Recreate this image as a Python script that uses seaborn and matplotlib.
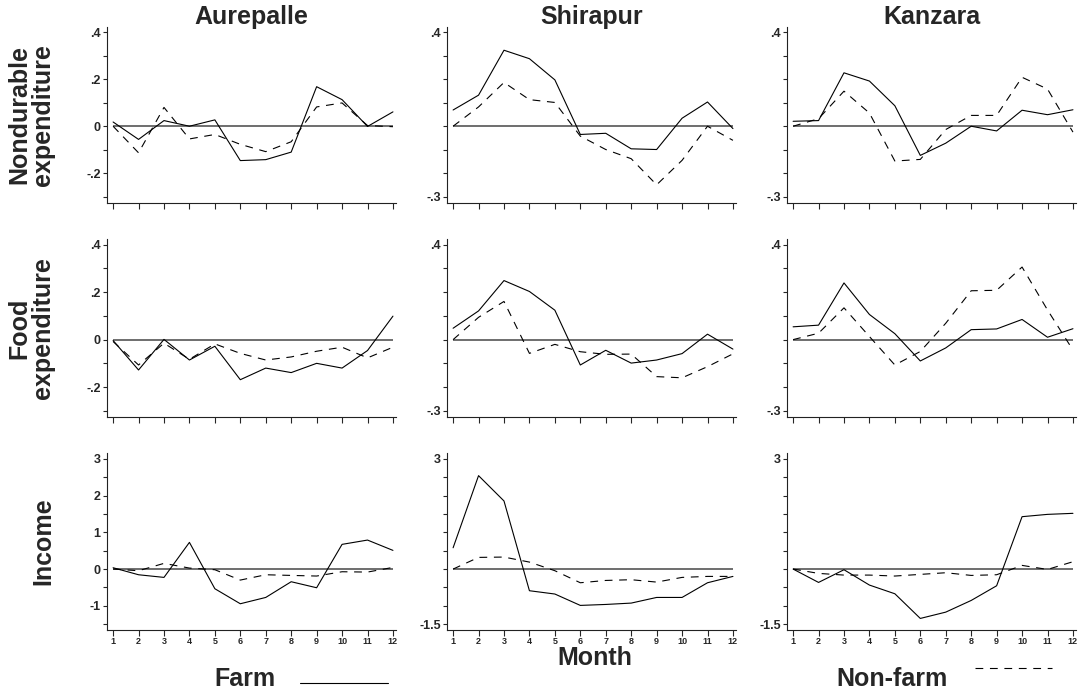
import numpy as np
import pandas as pd
import matplotlib
matplotlib.use("Agg")
import matplotlib.pyplot as plt
import seaborn as sns
from matplotlib.lines import Line2D

months = list(range(1, 13))
villages = ["Aurepalle", "Shirapur", "Kanzara"]
measures = ["Nondurable", "Food", "Income"]
row_titles = ["Nondurable\nexpenditure", "Food\nexpenditure", "Income"]

# Nondurable expenditure
nondur_farm_aur = [0.018, -0.056, 0.024, 0.0, 0.027, -0.146, -0.142, -0.110, 0.168, 0.113, -0.001, 0.061]
nondur_nonfarm_aur = [0.0, -0.113, 0.080, -0.054, -0.035, -0.077, -0.108, -0.066, 0.082, 0.099, 0.003, -0.002]
nondur_farm_shi = [0.069, 0.132, 0.323, 0.287, 0.197, -0.035, -0.030, -0.096, -0.099, 0.034, 0.103, -0.010]
nondur_nonfarm_shi = [0.0, 0.082, 0.186, 0.113, 0.101, -0.042, -0.099, -0.138, -0.249, -0.145, 0.0, -0.060]
nondur_farm_kan = [0.021, 0.024, 0.227, 0.192, 0.087, -0.124, -0.072, 0.0, -0.020, 0.068, 0.049, 0.070]
nondur_nonfarm_kan = [0.0, 0.032, 0.149, 0.056, -0.148, -0.141, -0.014, 0.046, 0.046, 0.208, 0.158, -0.025]

# Food expenditure
food_farm_aur = [-0.004, -0.128, 0.001, -0.086, -0.028, -0.169, -0.120, -0.139, -0.100, -0.120, -0.046, 0.099]
food_nonfarm_aur = [-0.008, -0.107, -0.015, -0.083, -0.018, -0.058, -0.086, -0.073, -0.049, -0.032, -0.077, -0.032]
food_farm_shi = [0.048, 0.121, 0.249, 0.203, 0.124, -0.107, -0.045, -0.099, -0.086, -0.059, 0.023, -0.040]
food_nonfarm_shi = [0.0, 0.094, 0.161, -0.058, -0.020, -0.051, -0.062, -0.061, -0.156, -0.161, -0.114, -0.060]
food_farm_kan = [0.054, 0.061, 0.239, 0.106, 0.025, -0.090, -0.035, 0.042, 0.045, 0.085, 0.010, 0.046]
food_nonfarm_kan = [0.0, 0.027, 0.134, 0.013, -0.107, -0.050, 0.069, 0.206, 0.208, 0.306, 0.125, -0.044]

# Income
inc_farm_aur = [0.036, -0.155, -0.227, 0.727, -0.536, -0.945, -0.773, -0.345, -0.509, 0.673, 0.790, 0.509]
inc_nonfarm_aur = [0.0, -0.045, 0.155, 0.027, -0.018, -0.300, -0.155, -0.173, -0.190, -0.073, -0.082, 0.045]
inc_farm_shi = [0.580, 2.545, 1.855, -0.590, -0.680, -0.990, -0.964, -0.927, -0.773, -0.773, -0.373, -0.200]
inc_nonfarm_shi = [0.0, 0.318, 0.327, 0.190, -0.045, -0.373, -0.310, -0.290, -0.355, -0.227, -0.200, -0.200]
inc_farm_kan = [0.0, -0.364, -0.018, -0.436, -0.673, -1.345, -1.173, -0.855, -0.455, 1.427, 1.490, 1.518]
inc_nonfarm_kan = [0.0, -0.118, -0.164, -0.164, -0.190, -0.145, -0.100, -0.173, -0.155, 0.100, -0.010, 0.200]

# tick values and labels
exp_ticks = [-0.3, -0.2, -0.1, 0.0, 0.1, 0.2, 0.3, 0.4]
exp_labels_first = ["", "-.2", "", "0", "", ".2", "", ".4"]
exp_labels_other = ["-.3", "", "", "", "", "", "", ".4"]
inc_ticks = [-1.5, -1.0, -0.5, 0.0, 0.5, 1.0, 1.5, 2.0, 2.5, 3.0]
inc_labels_first = ["", "-1", "", "0", "", "1", "", "2", "", "3"]
inc_labels_other = ["-1.5", "", "", "", "", "", "", "", "", "3"]

series = {
    ("Nondurable", "Aurepalle"): (nondur_farm_aur, nondur_nonfarm_aur),
    ("Nondurable", "Shirapur"): (nondur_farm_shi, nondur_nonfarm_shi),
    ("Nondurable", "Kanzara"): (nondur_farm_kan, nondur_nonfarm_kan),
    ("Food", "Aurepalle"): (food_farm_aur, food_nonfarm_aur),
    ("Food", "Shirapur"): (food_farm_shi, food_nonfarm_shi),
    ("Food", "Kanzara"): (food_farm_kan, food_nonfarm_kan),
    ("Income", "Aurepalle"): (inc_farm_aur, inc_nonfarm_aur),
    ("Income", "Shirapur"): (inc_farm_shi, inc_nonfarm_shi),
    ("Income", "Kanzara"): (inc_farm_kan, inc_nonfarm_kan),
}

rows = []
for (meas, vil), (farm, nonfarm) in series.items():
    for m, f, n in zip(months, farm, nonfarm):
        rows.append({"measure": meas, "village": vil, "month": m, "series": "Farm", "value": f})
        rows.append({"measure": meas, "village": vil, "month": m, "series": "Non-farm", "value": n})
df = pd.DataFrame(rows)

sns.set_style("ticks")
plt.rcParams["font.family"] = ["Liberation Sans", "DejaVu Sans"]
plt.rcParams["font.weight"] = "bold"

W, H = 1078, 689
fig = plt.figure(figsize=(W / 100, H / 100), dpi=100)

lefts = [107, 447, 787]
tops = [26.7, 239.3, 452.7]
bottoms = [202.7, 416.7, 630]
width = 289

for r, meas in enumerate(measures):
    for c, vil in enumerate(villages):
        ax = fig.add_axes([lefts[c] / W, 1 - bottoms[r] / H, width / W, (bottoms[r] - tops[r]) / H])
        sub = df[(df["measure"] == meas) & (df["village"] == vil)]
        ax.hlines(0, 1, 12, color="#555555", lw=1.2, zorder=1)
        sns.lineplot(data=sub, x="month", y="value", style="series",
                     dashes={"Farm": "", "Non-farm": (7, 6)}, color="black",
                     lw=0.8, errorbar=None, legend=False, ax=ax, zorder=2)
        ax.set_xlim(0.76, 12.12)
        if meas == "Income":
            ax.set_ylim(-1.66, 3.17)
            ax.set_yticks(inc_ticks, inc_labels_first if c == 0 else inc_labels_other)
        else:
            ax.set_ylim(-0.325, 0.423)
            ax.set_yticks(exp_ticks, exp_labels_first if c == 0 else exp_labels_other)
        ax.set_xticks(months, [str(m) for m in months] if r == 2 else [""] * 12)
        ax.set_xlabel("")
        ax.set_ylabel("")
        sns.despine(ax=ax)
        for s in ["left", "bottom"]:
            ax.spines[s].set_linewidth(0.8)
            ax.spines[s].set_color("#222222")
        ax.tick_params(axis="y", direction="out", length=3, width=0.8, labelsize=9, pad=1.5)
        ax.tick_params(axis="x", direction="out", length=4, width=0.8, labelsize=6.5, pad=1)
        for lab in ax.get_yticklabels() + ax.get_xticklabels():
            lab.set_fontweight("bold")

# column titles
for c, vil in enumerate(villages):
    fig.text((lefts[c] + width / 2) / W, 1 - 24 / H, vil, ha="center", va="baseline",
             fontsize=18, fontweight="bold")

# row titles
for r, title in enumerate(row_titles):
    fig.text(55 / W, 1 - (tops[r] + bottoms[r]) / 2 / H, title, rotation=90,
             ha="right", va="center", multialignment="center", linespacing=1.0,
             fontsize=18, fontweight="bold")

fig.text(595 / W, 1 - 665 / H, "Month", ha="center", va="baseline", fontsize=18, fontweight="bold")

# legend
fig.text(245 / W, 1 - 686 / H, "Farm", ha="center", va="baseline", fontsize=18, fontweight="bold")
fig.add_artist(Line2D([300 / W, 388 / W], [1 - 683 / H, 1 - 683 / H], color="black", lw=0.8))
fig.text(892 / W, 1 - 686 / H, "Non-farm", ha="center", va="baseline", fontsize=18, fontweight="bold")
fig.add_artist(Line2D([975 / W, 1052 / W], [1 - 668 / H, 1 - 668 / H], color="black", lw=0.8,
                      dashes=(7, 6)))

fig.savefig("out.png", dpi=100)
